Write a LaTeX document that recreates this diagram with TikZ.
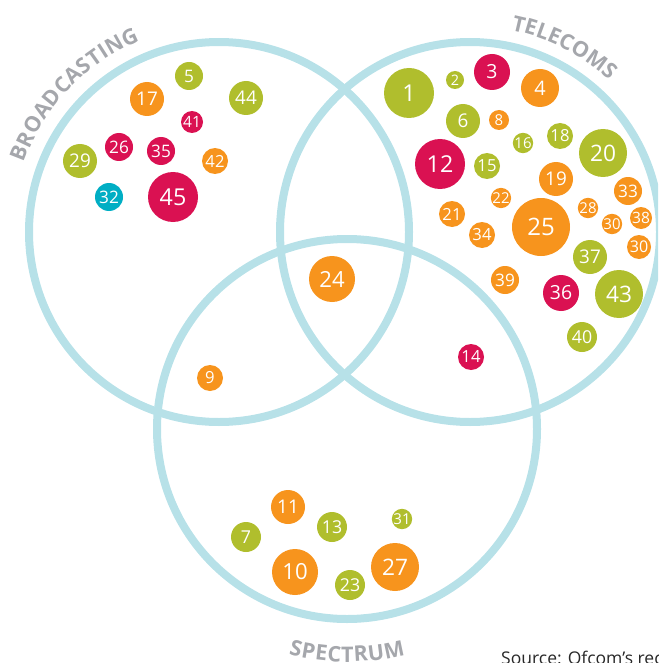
\documentclass[tikz,border=0pt]{standalone}
\usepackage{fontspec}
\setmainfont{Open Sans}
\usetikzlibrary{decorations.text}
\usepackage{xcolor}
\definecolor{ringblue}{RGB}{183,225,232}
\definecolor{bubgreen}{RGB}{176,190,45}
\definecolor{buborange}{RGB}{247,148,29}
\definecolor{bubred}{RGB}{218,17,82}
\definecolor{bubteal}{RGB}{0,174,196}
\definecolor{labelgray}{RGB}{165,167,172}
\definecolor{sourcegray}{RGB}{40,40,40}
\def\ringrad{190}
\def\labelfont{\bfseries\fontsize{21.5}{21.5}\selectfont}

\begin{document}
\begin{tikzpicture}[x=1pt,y=1pt]
	\tikzstyle{ring}=[draw=ringblue,line width=8pt]
	\tikzstyle{bubble}=[circle,inner sep=0pt,text=white]
	\tikzstyle{setlabel}=[decorate,decoration={text along path,text align={fit to path},text color=labelgray}]
	
	\useasboundingbox (0,0) rectangle (658,-663);
	\clip (0,0) rectangle (658,-663);
	
	% Draw the three sets
	\coordinate (broadcasting) at (219,-232);
	\coordinate (telecoms) at (470,-232);
	\coordinate (spectrum) at (347,-429);
	\foreach \set in {broadcasting,telecoms,spectrum}
	\draw[ring] (\set) circle[radius=\ringrad];
	
	% Set names
	\path[setlabel,decoration={text={|\labelfont|BROADCASTING}}]
	([shift={(160.5:207)}]broadcasting) arc[start angle=160.5,end angle=112.5,radius=207];
	\path[setlabel,decoration={text={|\labelfont|TELECOMS}}]
	([shift={(78.5:206)}]telecoms) arc[start angle=78.5,end angle=47.5,radius=206];
	\path[setlabel,decoration={text={|\labelfont|SPECTRUM}}]
	([shift={(255.5:233)}]spectrum) arc[start angle=255.5,end angle=284.5,radius=233];
	
	% Draw green bubbles
	\foreach \name/\x/\y/\r [count=\i] in {5/189/76/14,44/246/98/17,29/80/161/17,
		1/409/93/25,2/455/80/9,6/463/121/17,16/523/143/10,18/560/136/13,20/603/153/24,
		15/487/166/13,37/590/257/17,43/619/294/24,40/582/337/15,
		13/332/527/15,31/402/519/10,7/246/537/15,23/350/585/15}
	{
		\pgfmathsetmacro\fs{min(0.55*\r+9.5,24)}
		\node[bubble,fill=bubgreen,minimum size=2*\r pt,font=\fontsize{\fs}{\fs}\selectfont] (green-\i) at (\x,-\y) {\name};
	}
	
	% Draw orange bubbles
	\foreach \name/\x/\y/\r [count=\i] in {17/147/99/17,42/215/161/13,
		4/540/88/19,8/499/120/10,19/556/179/17,33/628/191/14,22/501/198/10,
		21/452/214/13,34/482/235/13,25/541/227/29,28/588/208/10,30/612/224/10,
		38/641/218/11,30/639/247/12,39/505/280/14,
		24/332/279/23,9/210/378/13,
		11/288/507/17,10/295/572/23,27/395/567/24}
	{
		\pgfmathsetmacro\fs{min(0.55*\r+9.5,24)}
		\node[bubble,fill=buborange,minimum size=2*\r pt,font=\fontsize{\fs}{\fs}\selectfont] (orange-\i) at (\x,-\y) {\name};
	}
	
	% Draw red bubbles
	\foreach \name/\x/\y/\r [count=\i] in {41/192/122/11,26/119/147/14,35/161/151/14,
		45/173/197/25,3/492/72/18,12/440/164/25,36/561/293/18,14/471/357/13}
	{
		\pgfmathsetmacro\fs{min(0.55*\r+9.5,24)}
		\node[bubble,fill=bubred,minimum size=2*\r pt,font=\fontsize{\fs}{\fs}\selectfont] (red-\i) at (\x,-\y) {\name};
	}
	
	% Draw teal bubble
	\node[bubble,fill=bubteal,minimum size=28pt,font=\fontsize{17.2}{17.2}\selectfont] (teal-1) at (109,-197) {32};
	
	% Source
	\node[anchor=base west,inner sep=0pt,text=sourcegray,font=\fontsize{17.5}{17.5}\selectfont] (source) at (501,-664) {Source: Ofcom’s rec};
\end{tikzpicture}
\end{document}
